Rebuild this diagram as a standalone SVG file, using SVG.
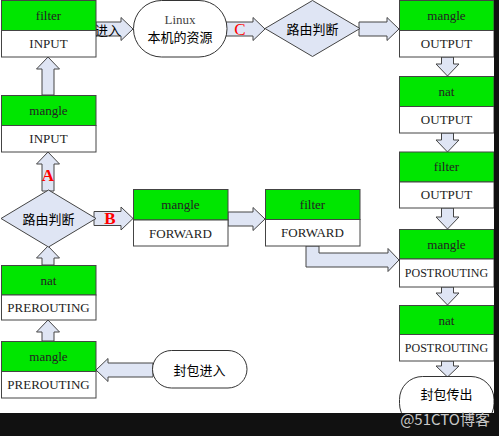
<svg xmlns="http://www.w3.org/2000/svg" width="499" height="436" viewBox="0 0 499 436">
<style>
.g{fill:#00e600;stroke:#444;stroke-width:1}
.w{fill:#fff;stroke:#444;stroke-width:1}
.t{font-family:"Liberation Serif",serif;font-size:13px;fill:#222;text-anchor:middle;dominant-baseline:central}
.c{font-family:"Noto Sans CJK SC",sans-serif;font-size:13px;fill:#000;text-anchor:middle;dominant-baseline:central}
.arr{fill:#dfe5f4;stroke:#444;stroke-width:1;stroke-linejoin:miter}
.shape{fill:#fff;stroke:#333;stroke-width:1}
.dia{fill:#dfe5f4;stroke:#444;stroke-width:1}
.lab{font-family:"Liberation Serif",serif;font-size:17px;fill:#ff0000;text-anchor:middle;dominant-baseline:central}
</style>
<rect x="0" y="0" width="499" height="436" fill="#fff"/>
<g id="connectors">
  <!-- 进入 -->
  <polygon class="arr" points="96,22 121,22 121,17.5 133,29 121,40.5 121,36 96,36"/>
  <!-- C -->
  <polygon class="arr" points="226,22 253,22 253,17.5 265,29 253,40.5 253,36 226,36"/>
  <!-- diamond -> mangle OUTPUT -->
  <polygon class="arr" points="359,22 387,22 387,17.5 399,29 387,40.5 387,36 359,36"/>
  <!-- B -->
  <polygon class="arr" points="94,211.5 121,211.5 121,207 133,218.5 121,230 121,225.5 94,225.5"/>
  <!-- mangle FORWARD -> filter FORWARD -->
  <polygon class="arr" points="228,212 253,212 253,207.5 265,219 253,230.5 253,226 228,226"/>
  <!-- filter FORWARD -> mangle POSTROUTING -->
  <polygon class="arr" points="306,246 319,246 319,253 388,253 388,248.5 399,260 388,271.5 388,267 306,267"/>
  <!-- 封包进入 -> mangle PREROUTING -->
  <polygon class="arr" points="153,363 108,363 108,358.5 96,370 108,381.5 108,377 153,377"/>
  <!-- up arrows left column -->
  <polygon class="arr" points="42,95 42,69 36.5,69 48,57 59.5,69 54,69 54,95"/>
  <polygon class="arr" points="42,191 42,164 36.5,164 48,152 59.5,164 54,164 54,191"/>
  <polygon class="arr" points="42,265 42,258 36.5,258 48,246 59.5,258 54,258 54,265"/>
  <polygon class="arr" points="42,341 42,332 36.5,332 48,320 59.5,332 54,332 54,341"/>
  <!-- down arrows right column -->
  <polygon class="arr" points="441.5,57 453.5,57 453.5,64 459,64 447.5,76 436,64 441.5,64"/>
  <polygon class="arr" points="441.5,133 453.5,133 453.5,140 459,140 447.5,152 436,140 441.5,140"/>
  <polygon class="arr" points="441.5,208 453.5,208 453.5,217 459,217 447.5,229 436,217 441.5,217"/>
  <polygon class="arr" points="441.5,287 453.5,287 453.5,293 459,293 447.5,305 436,293 441.5,293"/>
  <polygon class="arr" points="441.5,361 453.5,361 453.5,366 459,366 447.5,377 436,366 441.5,366"/>
  <text class="c" x="108" y="29">进入</text>
  <text class="lab" x="240" y="29">C</text>
  <text class="lab" x="48" y="175" font-weight="bold">A</text>
  <text class="lab" x="110" y="218" font-weight="bold">B</text>
</g>
<g id="filter-input">
  <rect class="g" x="1.5" y="0.5" width="94.5" height="30"/>
  <rect class="w" x="1.5" y="30.5" width="94.5" height="26.5"/>
  <text class="t" x="48.5" y="15.5">filter</text>
  <text class="t" x="48.5" y="43.5">INPUT</text>
</g>
<g id="mangle-input">
  <rect class="g" x="1.5" y="95.5" width="94.5" height="30"/>
  <rect class="w" x="1.5" y="125.5" width="94.5" height="26.5"/>
  <text class="t" x="48.5" y="110">mangle</text>
  <text class="t" x="48.5" y="138.5">INPUT</text>
</g>
<g id="route-a">
  <polygon class="dia" points="48.5,190 96,218.5 48.5,247 1,218.5"/>
  <text class="c" x="48.5" y="218.5">路由判断</text>
</g>
<g id="nat-prerouting">
  <rect class="g" x="1.5" y="265.5" width="94.5" height="29.5"/>
  <rect class="w" x="1.5" y="295" width="94.5" height="25"/>
  <text class="t" x="48.5" y="280.5">nat</text>
  <text class="t" x="48.5" y="307.5">PREROUTING</text>
</g>
<g id="mangle-prerouting">
  <rect class="g" x="1.5" y="341.5" width="94.5" height="30"/>
  <rect class="w" x="1.5" y="371.5" width="94.5" height="26.5"/>
  <text class="t" x="48.5" y="356">mangle</text>
  <text class="t" x="48.5" y="384.5">PREROUTING</text>
</g>
<g id="packet-in">
  <rect class="shape" x="152.5" y="350.5" width="94.5" height="37.5" rx="19" ry="19"/>
  <text class="c" x="199.5" y="369.5">封包进入</text>
</g>
<g id="linux">
  <rect class="shape" x="133.5" y="0.5" width="93.5" height="56.5" rx="28" ry="28"/>
  <text class="t" x="180" y="19.5" fill="#444" style="fill:#444">Linux</text>
  <text class="c" x="180" y="36.5">本机的资源</text>
</g>
<g id="mangle-forward">
  <rect class="g" x="133.5" y="189.5" width="94.5" height="30.5"/>
  <rect class="w" x="133.5" y="220" width="94.5" height="26"/>
  <text class="t" x="180.5" y="204.5">mangle</text>
  <text class="t" x="180.5" y="233">FORWARD</text>
</g>
<g id="filter-forward">
  <rect class="g" x="265.5" y="189.5" width="94.5" height="30"/>
  <rect class="w" x="265.5" y="219.5" width="94.5" height="26.5"/>
  <text class="t" x="312.5" y="204">filter</text>
  <text class="t" x="312.5" y="232.5">FORWARD</text>
</g>
<g id="route-c">
  <polygon class="dia" points="312.5,0.5 360,28.5 312.5,56.5 265,28.5"/>
  <text class="c" x="312.5" y="28.5">路由判断</text>
</g>
<g id="mangle-output">
  <rect class="g" x="399.5" y="0.5" width="94.5" height="30"/>
  <rect class="w" x="399.5" y="30.5" width="94.5" height="26.5"/>
  <text class="t" x="446.5" y="15.5">mangle</text>
  <text class="t" x="446.5" y="43.5">OUTPUT</text>
</g>
<g id="nat-output">
  <rect class="g" x="399.5" y="76.5" width="94.5" height="30"/>
  <rect class="w" x="399.5" y="106.5" width="94.5" height="26.5"/>
  <text class="t" x="446.5" y="91.5">nat</text>
  <text class="t" x="446.5" y="119.5">OUTPUT</text>
</g>
<g id="filter-output">
  <rect class="g" x="399.5" y="152" width="94.5" height="30"/>
  <rect class="w" x="399.5" y="182" width="94.5" height="26"/>
  <text class="t" x="446.5" y="166.5">filter</text>
  <text class="t" x="446.5" y="194.5">OUTPUT</text>
</g>
<g id="mangle-postrouting">
  <rect class="g" x="399.5" y="229.5" width="94.5" height="29.5"/>
  <rect class="w" x="399.5" y="259" width="94.5" height="28"/>
  <text class="t" x="446.5" y="244">mangle</text>
  <text class="t" x="446.5" y="272.5" style="font-size:12px">POSTROUTING</text>
</g>
<g id="nat-postrouting">
  <rect class="g" x="399.5" y="305.5" width="94.5" height="29"/>
  <rect class="w" x="399.5" y="334.5" width="94.5" height="26.5"/>
  <text class="t" x="446.5" y="320">nat</text>
  <text class="t" x="446.5" y="347.5" style="font-size:12px">POSTROUTING</text>
</g>
<g id="packet-out">
  <rect class="shape" x="399.5" y="376.5" width="94.5" height="50" rx="23" ry="23"/>
  <text class="c" x="446.5" y="393.5">封包传出</text>
</g>
<g id="frame">
  <rect x="0" y="413" width="499" height="23" fill="#111"/>
  <rect x="494" y="0" width="5" height="436" fill="#111"/>
  <text x="490" y="418" font-family="'Noto Sans CJK SC',sans-serif" font-size="15" fill="#c8c8c8" text-anchor="end" dominant-baseline="central">@51CTO博客</text>
</g>
</svg>
